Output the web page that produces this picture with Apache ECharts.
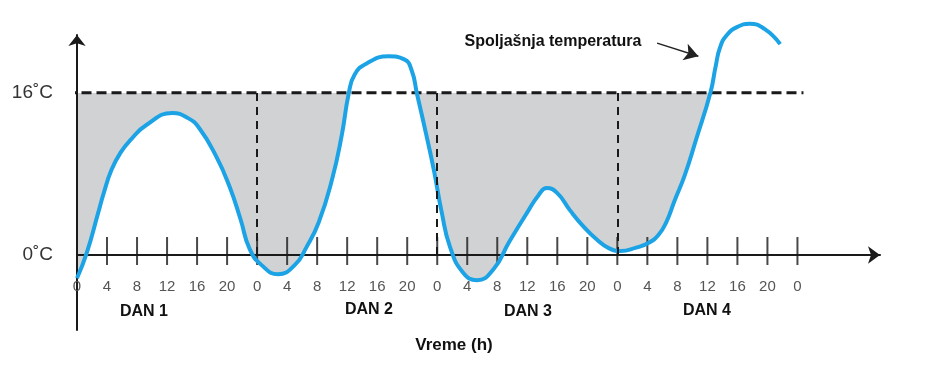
<!DOCTYPE html>
<html>
<head>
<meta charset="utf-8">
<script src="https://cdn.jsdelivr.net/npm/echarts@6/dist/echarts.min.js"></script>
<style>html,body{margin:0;padding:0;background:#fff;}#c{width:940px;height:372px;}</style>
</head>
<body>
<div id="c"></div>
<script>
// ---- data (hours since start of day 1, outside temperature in °C) ----
const hours = [0, 1.3, 2.8, 3.6, 4.6, 5.8, 7.2, 9.2, 12.7, 14.8, 16.3, 18.5, 20.3, 21.8, 23.0, 24.6, 26.8, 29.0, 30.6, 32.2, 34.0, 35.3, 36.2, 37.0, 38.6, 41.5, 43.6, 44.6, 45.3, 46.5, 47.6, 48.6, 49.7, 51.4, 53.3, 55.5, 57.6, 60.0, 61.5, 62.6, 64.0, 65.7, 67.5, 69.3, 70.8, 72.4, 74.4, 76.2, 77.5, 78.5, 79.6, 81.0, 82.5, 84.4, 85.1, 85.7, 86.6, 88.0, 89.6, 91.6, 93.7];
const temps = [-2.3, 0.2, 4.1, 6.2, 8.4, 10.1, 11.4, 12.8, 14.0, 13.5, 12.5, 9.8, 6.8, 3.5, 0.6, -1.0, -1.9, -1.0, 0.8, 3.2, 7.5, 11.9, 15.9, 17.8, 18.9, 19.6, 19.3, 18.2, 15.9, 12.0, 8.2, 4.2, 0.8, -1.7, -2.5, -1.4, 1.3, 4.2, 5.9, 6.6, 6.1, 4.4, 2.8, 1.5, 0.7, 0.4, 0.7, 1.2, 2.0, 3.2, 5.3, 7.9, 11.4, 16.0, 18.6, 20.5, 21.7, 22.5, 22.8, 22.3, 20.8];
const tickHours = [0, 4, 8, 12, 16, 20, 24, 28, 32, 36, 40, 44, 48, 52, 56, 60, 64, 68, 72, 76, 80, 84, 88, 92, 96];
const yLabelValues = [0, 16];
const threshold = 16;
const dayBoundaries = [24, 48, 72];
const dayLabels = ['DAN 1', 'DAN 2', 'DAN 3', 'DAN 4'];
const thresholdSpan = [-1.4, 96.8];
const annotationText = 'Spoljašnja temperatura';
const annotationArrow = [[77.3, 20.9], [82.8, 19.6]];
const xTitle = 'Vreme (h)';

const points = hours.map((h, i) => [h, temps[i]]);
const SMOOTH = 0.5;
const BLUE = '#1BA3E6';
const INK = '#1a1a1a';
const FONT = '"Liberation Sans", Arial, sans-serif';

const chart = echarts.init(document.getElementById('c'), null, {renderer: 'canvas'});
const dayLabelPos = [[144, 312], [369, 310], [528, 312], [707, 311]];

chart.setOption({
  animation: false,
  backgroundColor: '#ffffff',
  grid: {left: 77, top: 35, width: 803, height: 295, containLabel: false},
  xAxis: {
    type: 'value', min: 0, max: 107, interval: 4,
    axisLine: {onZero: true, lineStyle: {color: INK, width: 2}, symbol: ['none', 'arrow'], symbolSize: [13, 12]},
    axisTick: {show: false},
    splitLine: {show: false},
    axisLabel: {
      margin: -51, fontSize: 15, color: '#555', fontFamily: FONT,
      showMinLabel: true, showMaxLabel: true,
      formatter: v => (tickHours.indexOf(v) >= 0 ? String(v % 24) : '')
    }
  },
  yAxis: {
    type: 'value', min: -7.4, max: 21.7,
    axisLine: {onZero: false, lineStyle: {color: INK, width: 2}, symbol: ['none', 'arrow'], symbolSize: [13, 11]},
    axisTick: {show: false},
    splitLine: {show: false},
    axisLabel: {
      customValues: yLabelValues,
      margin: 24, fontSize: 19, color: '#333', fontFamily: FONT,
      formatter: v => v + '˚C'
    }
  },
  visualMap: {
    type: 'piecewise', show: false, seriesIndex: 0, dimension: 1,
    pieces: [{lt: threshold, color: '#d1d2d4'}, {gte: threshold, lte: 1000, color: 'rgba(255,255,255,0)'}],
    outOfRange: {color: 'rgba(255,255,255,0)'}
  },
  series: [
    {
      type: 'line', data: points, smooth: SMOOTH, symbol: 'none', silent: true, z: -1,
      lineStyle: {width: 0, opacity: 0},
      areaStyle: {origin: threshold, opacity: 1}
    },
    {
      type: 'line', data: thresholdSpan.map(h => [h, threshold]), symbol: 'none', silent: true, clip: false, z: 1,
      lineStyle: {color: INK, width: 3, type: [10, 5]},
      markLine: {
        silent: true, symbol: ['none', 'none'], label: {show: false},
        lineStyle: {color: INK, width: 2, type: [8, 6]},
        data: dayBoundaries.map(d => [{coord: [d, 0]}, {coord: [d, threshold]}])
      }
    },
    {
      type: 'scatter', data: tickHours.map(h => [h, 0]), symbol: 'rect', symbolSize: [2, 28], symbolOffset: [0, -4],
      itemStyle: {color: INK}, silent: true, z: 1
    },
    {
      type: 'line', data: points, smooth: SMOOTH, symbol: 'none', silent: true, clip: false, z: 3,
      lineStyle: {color: BLUE, width: 4},
      markLine: {
        silent: true, symbol: ['none', 'arrow'], symbolSize: [13, 14], label: {show: false},
        lineStyle: {color: '#222', width: 1.5, type: 'solid'},
        data: [[{coord: annotationArrow[0]}, {coord: annotationArrow[1]}]]
      }
    }
  ],
  graphic: [
    {type: 'text', x: 553, y: 42, silent: true,
     style: {text: annotationText, fill: '#111', font: 'bold 16px ' + FONT, align: 'center', verticalAlign: 'middle'}},
    {type: 'text', x: 454, y: 345, silent: true,
     style: {text: xTitle, fill: '#111', font: 'bold 17px ' + FONT, align: 'center', verticalAlign: 'middle'}}
  ].concat(dayLabels.map((t, i) => ({
    type: 'text', x: dayLabelPos[i][0], y: dayLabelPos[i][1], silent: true,
    style: {text: t, fill: '#111', font: 'bold 16px ' + FONT, align: 'center', verticalAlign: 'middle'}
  })))
});
</script>
</body>
</html>
